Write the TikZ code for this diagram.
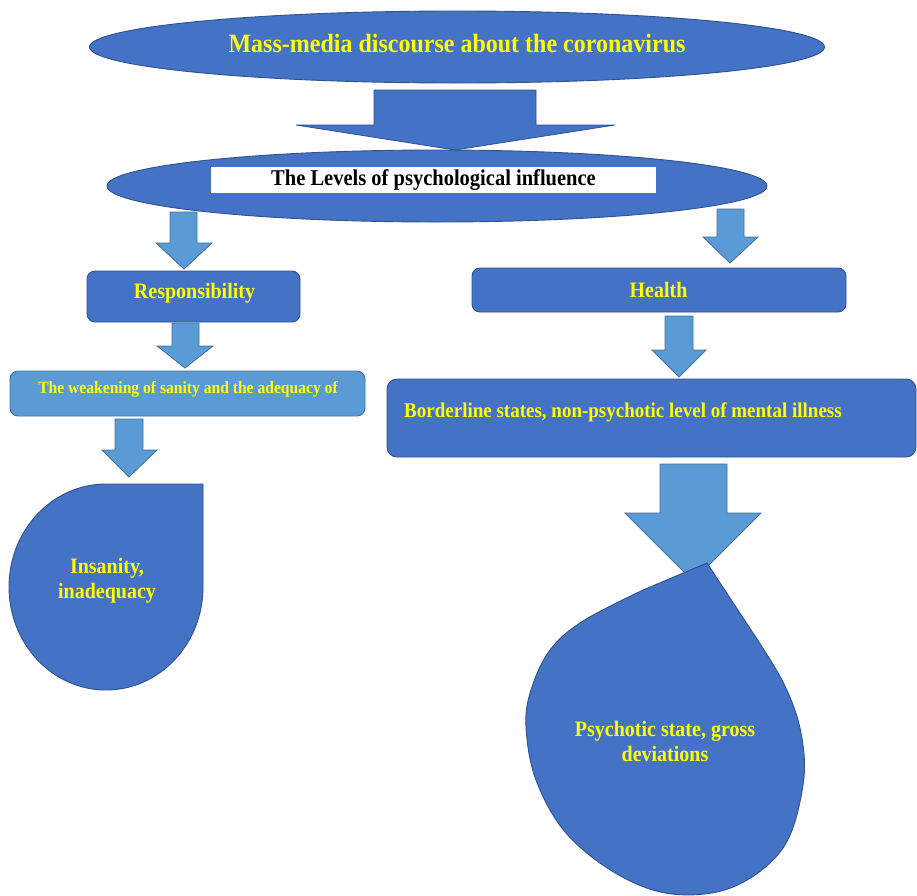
\documentclass[tikz,border=0pt]{standalone}
\usepackage{fontspec}
\setmainfont{Liberation Serif}
\usetikzlibrary{shapes.geometric}
\definecolor{dblue}{HTML}{4472C4}
\definecolor{dline}{HTML}{2F528F}
\definecolor{lblue}{HTML}{5B9BD5}
\definecolor{lline}{HTML}{41719C}
\definecolor{ytext}{HTML}{FFFF00}
% style, left, right, top, wing left, wing right, wing y, tip x, tip y
\newcommand\blockdown[9]{\draw[#1] (#2,#4) -- (#3,#4) -- (#3,#7) -- (#6,#7) -- (#8,#9) -- (#5,#7) -- (#2,#7) -- cycle;}
\newcommand\talltext[1]{\scalebox{1}[1.1]{#1}}
\begin{document}
\begin{tikzpicture}[x=1pt,y=-1pt,
  darkshape/.style={fill=dblue,draw=dline,line width=0.9pt},
  lightarrow/.style={fill=lblue,draw=lline,line width=0.8pt,line join=miter},
  darkarrow/.style={fill=dblue,draw=dline,line width=0.8pt,line join=miter},
  boxshape/.style={darkshape,rectangle,rounded corners=8pt,inner sep=0pt},
  ylabel/.style={text=ytext,font=\bfseries\fontsize{20}{25}\selectfont,inner sep=0pt,align=center},
]
\useasboundingbox (0,0) rectangle (917,895);

% top ellipse
\node[darkshape,ellipse,minimum width=735pt,minimum height=72pt,inner sep=0pt] (mediaell) at (457,47) {};
\node[ylabel,font=\bfseries\fontsize{24}{28}\selectfont] (media) at (457,43) {\talltext{Mass-media discourse about the coronavirus}};

% big top arrow
\blockdown{darkarrow}{374}{536}{90}{296}{615}{125}{455}{150}

% second ellipse
\node[darkshape,ellipse,minimum width=660pt,minimum height=72pt,inner sep=0pt] (levelsell) at (437,186) {};
\node[fill=white,minimum width=445pt,minimum height=26pt,inner sep=0pt,
      font=\bfseries\fontsize{20.5}{24}\selectfont,text=black] (levels) at (433.5,180) {\talltext{The Levels of psychological influence}};

% left branch
\blockdown{lightarrow}{170}{197}{212}{156}{212}{243}{184}{269}
\node[boxshape,minimum width=213pt,minimum height=51pt] (respbox) at (193.5,296.5) {};
\node[ylabel] (resp) at (194.5,293) {\talltext{Responsibility}};
\blockdown{lightarrow}{172}{199}{323}{157}{213}{346}{185}{368}
\node[rectangle,rounded corners=8pt,fill=lblue,draw=lline,line width=0.9pt,minimum width=355pt,minimum height=45pt,inner sep=0pt] (weakbox) at (187.5,393.5) {};
\node[ylabel,font=\bfseries\fontsize{15.6}{18}\selectfont] (weak) at (188,389) {\talltext{The weakening of sanity and the adequacy of}};
\blockdown{lightarrow}{115}{143}{419}{102}{157}{450}{129}{477}
\draw[darkshape] (203,484) -- (203,587) arc[start angle=0,end angle=270,x radius=97,y radius=103] -- cycle;
\node[ylabel] (insanity) at (107,580.5) {\talltext{Insanity,}\\\talltext{inadequacy}};

% right branch
\blockdown{lightarrow}{717}{744}{209}{703}{758}{237}{730}{263}
\node[boxshape,minimum width=374pt,minimum height=44pt] (healthbox) at (659,290) {};
\node[ylabel] (health) at (658.5,290) {\talltext{Health}};
\blockdown{lightarrow}{665}{693}{316}{652}{706}{350}{679}{377}
\node[boxshape,rounded corners=10pt,minimum width=529pt,minimum height=78pt] (borderbox) at (651.5,418) {};
\node[ylabel,anchor=west,font=\bfseries\fontsize{19}{23}\selectfont] (border) at (404,412) {\talltext{Borderline states, non-psychotic level of mental illness}};
\blockdown{lightarrow}{660}{727}{464}{625}{761}{513}{693}{581}
\draw[darkshape] (707,563) -- plot[smooth,tension=0.6] coordinates {(643,590) (583,621) (550,650) (531,690) (526,727) (536,780) (566,833) (617,874) (672,894) (733,887) (783,848) (803,785) (801,733) (784,684) (753,633)} -- cycle;
\node[ylabel] (psychotic) at (665,741) {\talltext{Psychotic state, gross}\\\talltext{deviations}};
\end{tikzpicture}
\end{document}
